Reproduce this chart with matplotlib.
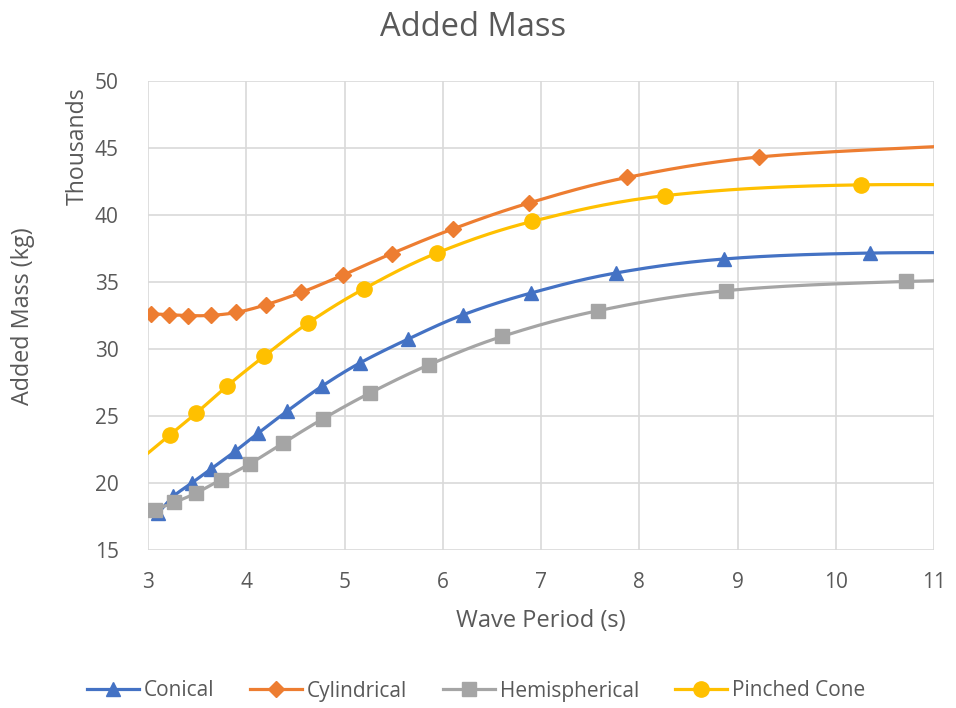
import numpy as np
import matplotlib
matplotlib.use("Agg")
import matplotlib.pyplot as plt
from matplotlib.lines import Line2D

plt.rcParams['font.family'] = ['Open Sans', 'DejaVu Sans']

# wave period (s) and added mass (thousands of kg)
# points outside 3..11 only carry the line to the plot edge
conical_t = [3.105, 3.258, 3.445, 3.641, 3.885, 4.123, 4.412, 4.768, 5.158,
             5.65, 6.21, 6.90, 7.76, 8.866, 10.35, 12.4]
conical_m = [17.76, 19.0, 20.0, 21.04, 22.36, 23.73, 25.34, 27.21, 28.96,
             30.75, 32.56, 34.18, 35.67, 36.72, 37.16, 37.17]

cyl_t = [3.03, 3.21, 3.41, 3.64, 3.90, 4.20, 4.56, 4.98, 5.48, 6.10, 6.88,
         7.88, 9.22, 11.12]
cyl_m = [32.63, 32.56, 32.49, 32.51, 32.73, 33.30, 34.22, 35.50, 37.12,
         38.95, 40.90, 42.81, 44.33, 45.14]

hemi_t = [3.071, 3.268, 3.489, 3.74, 4.038, 4.377, 4.778, 5.26, 5.863,
          6.606, 7.583, 8.88, 10.715, 13.5]
hemi_m = [18.01, 18.55, 19.25, 20.25, 21.44, 22.99, 24.78, 26.72, 28.83,
          30.94, 32.86, 34.35, 35.04, 35.4]

pinch_t = [2.88, 3.224, 3.49, 3.80, 4.18, 4.63, 5.20, 5.94, 6.91, 8.26,
           10.26, 13.6]
pinch_m = [21.5, 23.60, 25.21, 27.21, 29.45, 31.94, 34.50, 37.16, 39.52,
           41.44, 42.25, 42.05]

series = [
    ("Conical", conical_t, conical_m, "#4472C4", "^", 10.5),
    ("Cylindrical", cyl_t, cyl_m, "#ED7D31", "D", 8),
    ("Hemispherical", hemi_t, hemi_m, "#A5A5A5", "s", 10),
    ("Pinched Cone", pinch_t, pinch_m, "#FFC000", "o", 11),
]
GREY = "#595959"


def smooth(x, y, n=30):
    # bezier smoothing like a spreadsheet "smoothed line"
    x = np.asarray(x, float)
    y = np.asarray(y, float)
    px = np.concatenate(([x[0]], x, [x[-1]]))
    py = np.concatenate(([y[0]], y, [y[-1]]))
    t = np.linspace(0, 1, n)[:, None]
    xs, ys = [], []
    for i in range(1, len(px) - 2):
        p0 = np.array([px[i], py[i]])
        p3 = np.array([px[i + 1], py[i + 1]])
        c1 = p0 + (p3 - np.array([px[i - 1], py[i - 1]])) / 6
        c2 = p3 - (np.array([px[i + 2], py[i + 2]]) - p0) / 6
        seg = ((1 - t) ** 3) * p0 + 3 * ((1 - t) ** 2) * t * c1 \
            + 3 * (1 - t) * t ** 2 * c2 + t ** 3 * p3
        xs.append(seg[:, 0])
        ys.append(seg[:, 1])
    return np.concatenate(xs), np.concatenate(ys)


fig = plt.figure(figsize=(9.56, 7.08), dpi=100)
ax = fig.add_axes([148 / 956, 1 - 550 / 708, (934 - 148) / 956, (550 - 81) / 708])

handles = []
for name, t, m, col, mk, ms in series:
    sx, sy = smooth(t, m)
    ax.plot(sx, sy, color=col, lw=2.3, solid_capstyle='round', zorder=3)
    ax.plot(t, m, ls='none', marker=mk, ms=ms, color=col, zorder=4)
    handles.append(Line2D([], [], color=col, lw=2.3, marker=mk, ms=ms))

ax.set_xlim(3, 11)
ax.set_ylim(15, 50)
ax.set_xticks(range(3, 12))
ax.set_yticks(range(15, 51, 5))
ax.grid(True, color="#D9D9D9", lw=1.2)
ax.set_axisbelow(True)
for s in ax.spines.values():
    s.set_visible(False)
ax.tick_params(length=0, labelsize=15, labelcolor=GREY)
ax.tick_params(axis='y', pad=21)
ax.tick_params(axis='x', pad=16)

fig.text(541 / 956, 1 - 621 / 708, "Wave Period (s)", fontsize=17,
         color=GREY, ha='center', va='center')
fig.text(23 / 956, 1 - 316 / 708, "Added Mass (kg)", rotation=90,
         fontsize=16.8, color=GREY, ha='center', va='center')
fig.text(78 / 956, 1 - 146 / 708, "Thousands", rotation=90, fontsize=16.6,
         color=GREY, ha='center', va='center')
fig.text(473 / 956, 1 - 27 / 708, "Added Mass", fontsize=23.5, color=GREY,
         ha='center', va='center')

fig.legend(handles, [s[0] for s in series], loc='center', ncol=4,
           bbox_to_anchor=(476 / 956, 1 - 691 / 708), frameon=False,
           fontsize=15, labelcolor=GREY, handlelength=2.5,
           columnspacing=1.7, handletextpad=0.25)

fig.savefig("out.png", dpi=100)
